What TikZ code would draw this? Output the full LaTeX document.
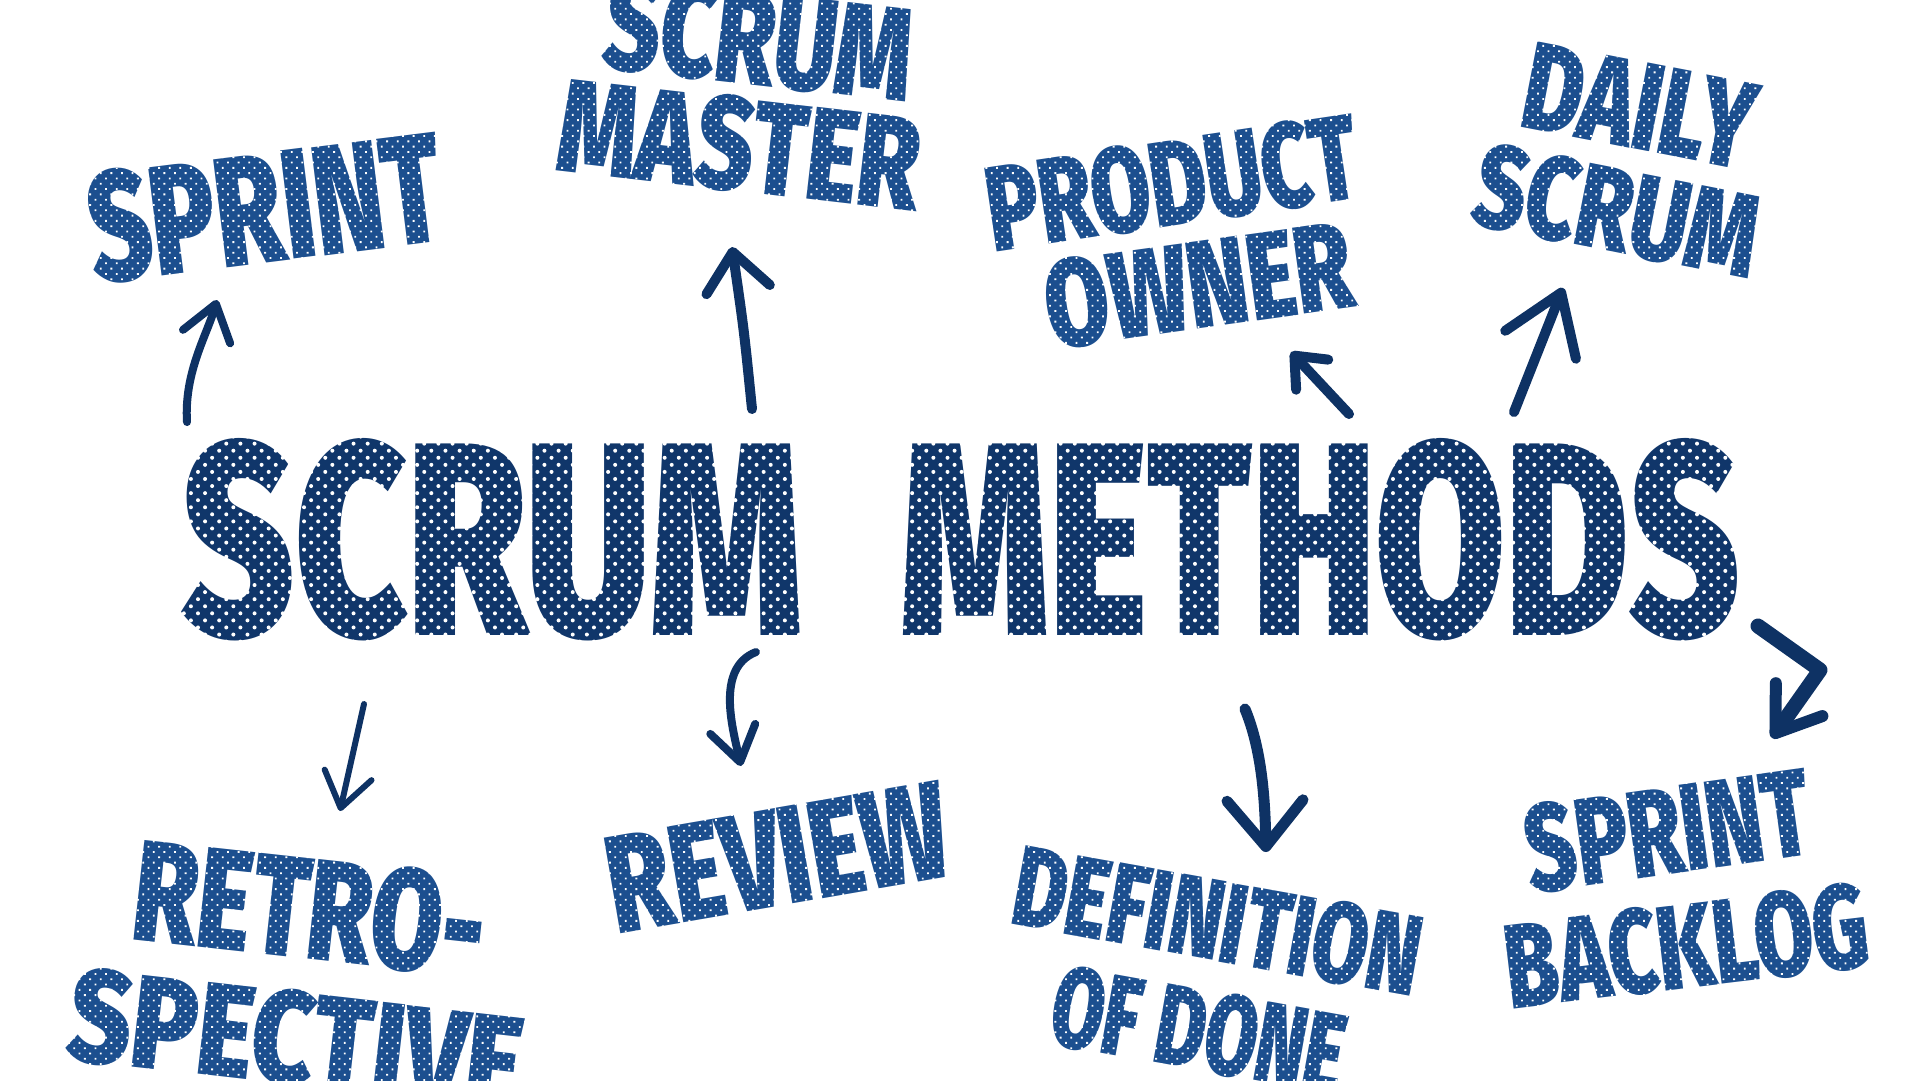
\documentclass[tikz,border=0pt]{standalone}
\usepackage{fontspec}
\newfontfamily\brush{Fira Sans Black}
\usetikzlibrary{arrows.meta,patterns.meta}
\definecolor{labc}{HTML}{1C4F8F}
\definecolor{bigc}{HTML}{10366A}
\definecolor{arrc}{HTML}{0E3264}
\newlength\pxu
\setlength\pxu{0.1mm}
\newcommand\fitbox[3]{\resizebox{#1\pxu}{#2\pxu}{\brush #3}}
\newcommand\dotover[2]{\fill[#2] (#1.south west) -- (#1.south east) -- (#1.north east) -- (#1.north west) -- cycle;}
\begin{document}
\begin{tikzpicture}[x=0.1mm,y=-0.1mm,
  lbl/.style={inner sep=0pt, text=labc},
  bigt/.style={inner sep=0pt, text=bigc},
  dotsS/.style={pattern={Dots[angle=45,distance=0.75mm,radius=0.13mm]}, pattern color=white},
  dotsB/.style={pattern={Dots[angle=45,distance=1.0mm,radius=0.2mm]}, pattern color=white},
  brush/.style={draw=arrc, line cap=round, line join=round}]
\useasboundingbox (0,0) rectangle (1920,1080);
\fill[white] (0,0) rectangle (1920,1080);
\clip (0,0) rectangle (1920,1080);

% title
\node[bigt, anchor=base west] (title) at (181,635)
  {\fitbox{621}{197}{SCRUM}\hspace{98\pxu}\fitbox{839}{197}{METHODS}};
\dotover{title}{dotsB}

% labels
\node[lbl, rotate=7.1]   (sprint) at (265,208)  {\fitbox{355}{112}{SPRINT}};
\node[lbl, rotate=-6.5]  (sm1)    at (759,39)   {\fitbox{309}{95}{SCRUM}};
\node[lbl, rotate=-6.6]  (sm2)    at (740,145)  {\fitbox{363}{95}{MASTER}};
\node[lbl, rotate=8.5]   (po1)    at (1172,183) {\fitbox{374}{87}{PRODUCT}};
\node[lbl, rotate=7.9]   (po2)    at (1199,285) {\fitbox{309}{89}{OWNER}};
\node[lbl, rotate=-11]   (ds1)    at (1640,106) {\fitbox{233}{87}{DAILY}};
\node[lbl, rotate=-11.2] (ds2)    at (1617,211) {\fitbox{286}{85}{SCRUM}};
\node[lbl, rotate=-6.3]  (rs1)    at (310,909)  {\fitbox{352}{103}{RETRO-}};
\node[lbl, rotate=-6.5]  (rs2)    at (296,1039) {\fitbox{455}{95}{SPECTIVE}};
\node[lbl, rotate=9.8]   (rev)    at (778,857)  {\fitbox{344}{97}{REVIEW}};
\node[lbl, rotate=-10.2] (dd1)    at (1218,921) {\fitbox{411}{82}{DEFINITION}};
\node[lbl, rotate=-10.2] (dd2)    at (1199,1030){\fitbox{296}{82}{OF DONE}};
\node[lbl, rotate=8]     (sb1)    at (1668,831) {\fitbox{287}{89}{SPRINT}};
\node[lbl, rotate=6.8]   (sb2)    at (1687,946) {\fitbox{365}{86}{BACKLOG}};
\foreach \n in {sprint,sm1,sm2,po1,po2,ds1,ds2,rs1,rs2,rev,dd1,dd2,sb1,sb2}{\dotover{\n}{dotsS}}

% arrows
\coordinate (a1s) at (187,422); \coordinate (a1e) at (217,300);
\coordinate (a2s) at (752,409); \coordinate (a2e) at (732,247);
\coordinate (a3s) at (1349,414); \coordinate (a3e) at (1291,352);
\coordinate (a4s) at (1514,412); \coordinate (a4e) at (1563,288);
\coordinate (a5s) at (364,704); \coordinate (a5e) at (340,811);
\coordinate (a6s) at (756,652); \coordinate (a6e) at (741,766);
\coordinate (a7s) at (1245,709); \coordinate (a7e) at (1266,852);
\coordinate (a8s) at (1758,626); \coordinate (a8m) at (1820,670); \coordinate (a8e) at (1772,738);

\draw[brush, line width=0.8mm, -{Straight Barb[round,length=3.4mm,width=4.9mm]}]
  (a1s) .. controls (184,372) and (207,335) .. (a1e);
\draw[brush, line width=1.0mm, -{Straight Barb[round,length=3.8mm,width=6.4mm]}]
  (a2s) .. controls (744,330) .. (a2e);
\draw[brush, line width=1.0mm, -{Straight Barb[round,length=2.6mm,width=4.4mm]}]
  (a3s) -- (a3e);
\draw[brush, line width=1.0mm, -{Straight Barb[round,length=5.6mm,width=7.6mm]}]
  (a4s) -- (a4e);
\draw[brush, line width=0.6mm, -{Straight Barb[round,length=3.4mm,width=4.8mm]}]
  (a5s) -- (a5e);
\draw[brush, line width=0.8mm, -{Straight Barb[round,length=3.4mm,width=4.6mm]}]
  (a6s) .. controls (715,668) and (733,730) .. (a6e);
\draw[brush, line width=1.1mm, -{Straight Barb[round,length=4.6mm,width=7.6mm]}]
  (a7s) .. controls (1262,750) and (1265,800) .. (a7e);
\draw[brush, line width=1.5mm, -{Straight Barb[round,length=4.1mm,width=5.7mm,line width=1.2mm]}]
  (a8s) -- (a8m) -- (a8e);
\end{tikzpicture}
\end{document}
